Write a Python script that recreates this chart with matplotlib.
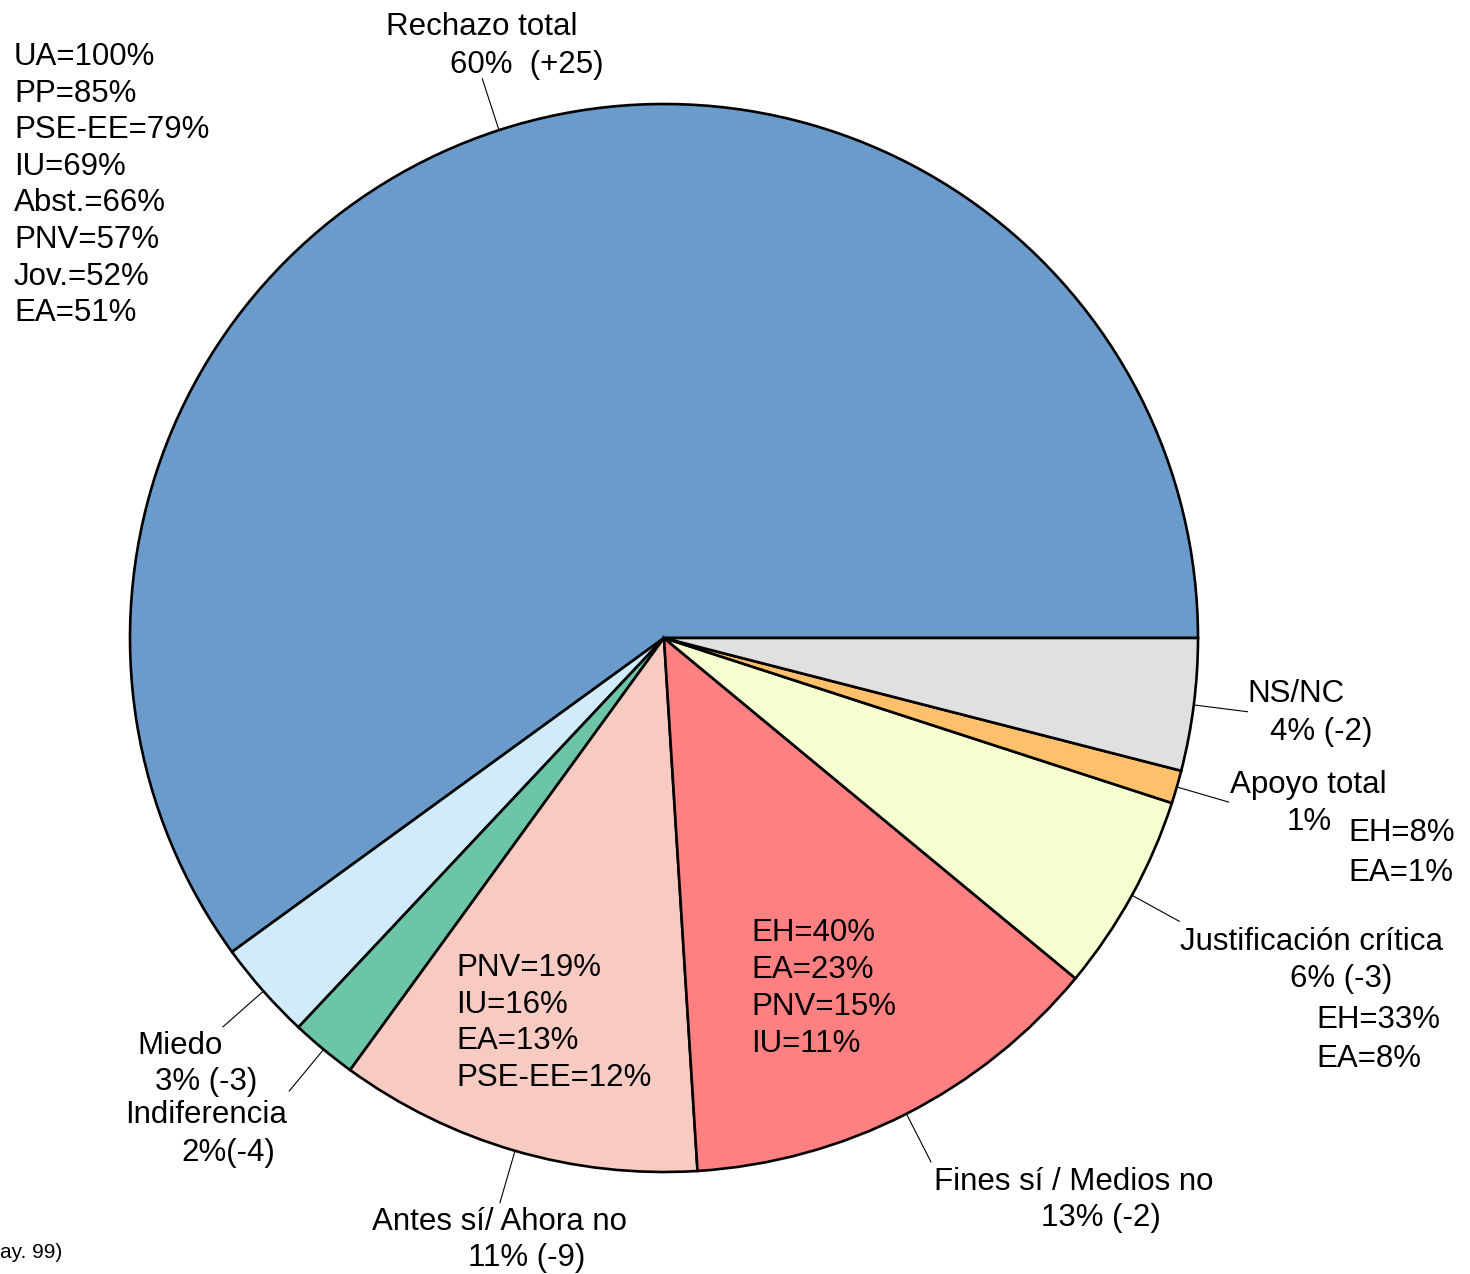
import numpy as np
import matplotlib.pyplot as plt

plt.rcParams['font.family'] = ['Liberation Sans', 'DejaVu Sans']

# Data
categories = ["Rechazo total", "Miedo", "Indiferencia", "Antes sí/ Ahora no",
              "Fines sí / Medios no", "Justificación crítica", "Apoyo total", "NS/NC"]
values = [60, 3, 2, 11, 13, 6, 1, 4]
changes = ["(+25)", "(-3)", "(-4)", "(-9)", "(-2)", "(-3)", "", "(-2)"]
colors = ["#6a9bcb", "#d0ecfc", "#6cc5a7", "#f7cbc2",
          "#ff8080", "#f6ffd0", "#ffc06c", "#e0e0e0"]

rechazo_groups = ["UA=100%", "PP=85%", "PSE-EE=79%", "IU=69%",
                  "Abst.=66%", "PNV=57%", "Jov.=52%", "EA=51%"]
antes_groups = ["PNV=19%", "IU=16%", "EA=13%", "PSE-EE=12%"]
fines_groups = ["EH=40%", "EA=23%", "PNV=15%", "IU=11%"]
justif_groups = ["EH=33%", "EA=8%"]
apoyo_groups = ["EH=8%", "EA=1%"]

W, H = 1470, 1274
fig = plt.figure(figsize=(W / 100, H / 100), dpi=100)
ax = fig.add_axes([0, 0, 1, 1])

cx, cy, R = 664, H - 638, 534
wedges, _ = ax.pie(values, colors=colors, startangle=0, counterclock=True,
                   center=(cx, cy), radius=R, frame=True,
                   wedgeprops=dict(edgecolor="black", linewidth=1.9))
ax.set_xlim(0, W)
ax.set_ylim(0, H)
ax.set_aspect("equal")
ax.axis("off")

# leader lines, radial from the edge
for w in wedges:
    a = np.deg2rad((w.theta1 + w.theta2) / 2)
    ax.plot([cx + R * np.cos(a), cx + 588 * np.cos(a)],
            [cy + R * np.sin(a), cy + 588 * np.sin(a)],
            color="black", lw=0.8)

fs = 22.5


def t(x, y, s, ha="center", size=fs):
    ax.text(x, H - y - 2, s, ha=ha, va="center", fontsize=size)


# outer labels
t(482, 25, categories[0])
t(527, 63, f"{values[0]}%  {changes[0]}")
t(180, 1044, categories[1])
t(206, 1080, f"{values[1]}% {changes[1]}")
t(206, 1113, categories[2])
t(228, 1151, f"{values[2]}%{changes[2]}")
t(500, 1220, categories[3])
t(527, 1256, f"{values[3]}% {changes[3]}")
t(1074, 1180, categories[4])
t(1101, 1216, f"{values[4]}% {changes[4]}")
t(1312, 940, categories[5])
t(1341, 977, f"{values[5]}% {changes[5]}")
t(1308, 783, categories[6])
t(1309, 820, f"{values[6]}%")
t(1296, 692, categories[7])
t(1321, 730, f"{values[7]}% {changes[7]}")

# breakdowns by group
for i, s in enumerate(rechazo_groups):
    t(14, 55 + i * 36.6, s, ha="left")
for i, s in enumerate(antes_groups):
    t(456, 966 + i * 36.7, s, ha="left")
for i, s in enumerate(fines_groups):
    t(751, 931 + i * 37, s, ha="left")
for i, s in enumerate(justif_groups):
    t(1316, 1018 + i * 39, s, ha="left")
for i, s in enumerate(apoyo_groups):
    t(1348, 831 + i * 40, s, ha="left")

t(0, 1250, "ay. 99)", ha="left", size=15)

fig.savefig("out.png", dpi=100)
